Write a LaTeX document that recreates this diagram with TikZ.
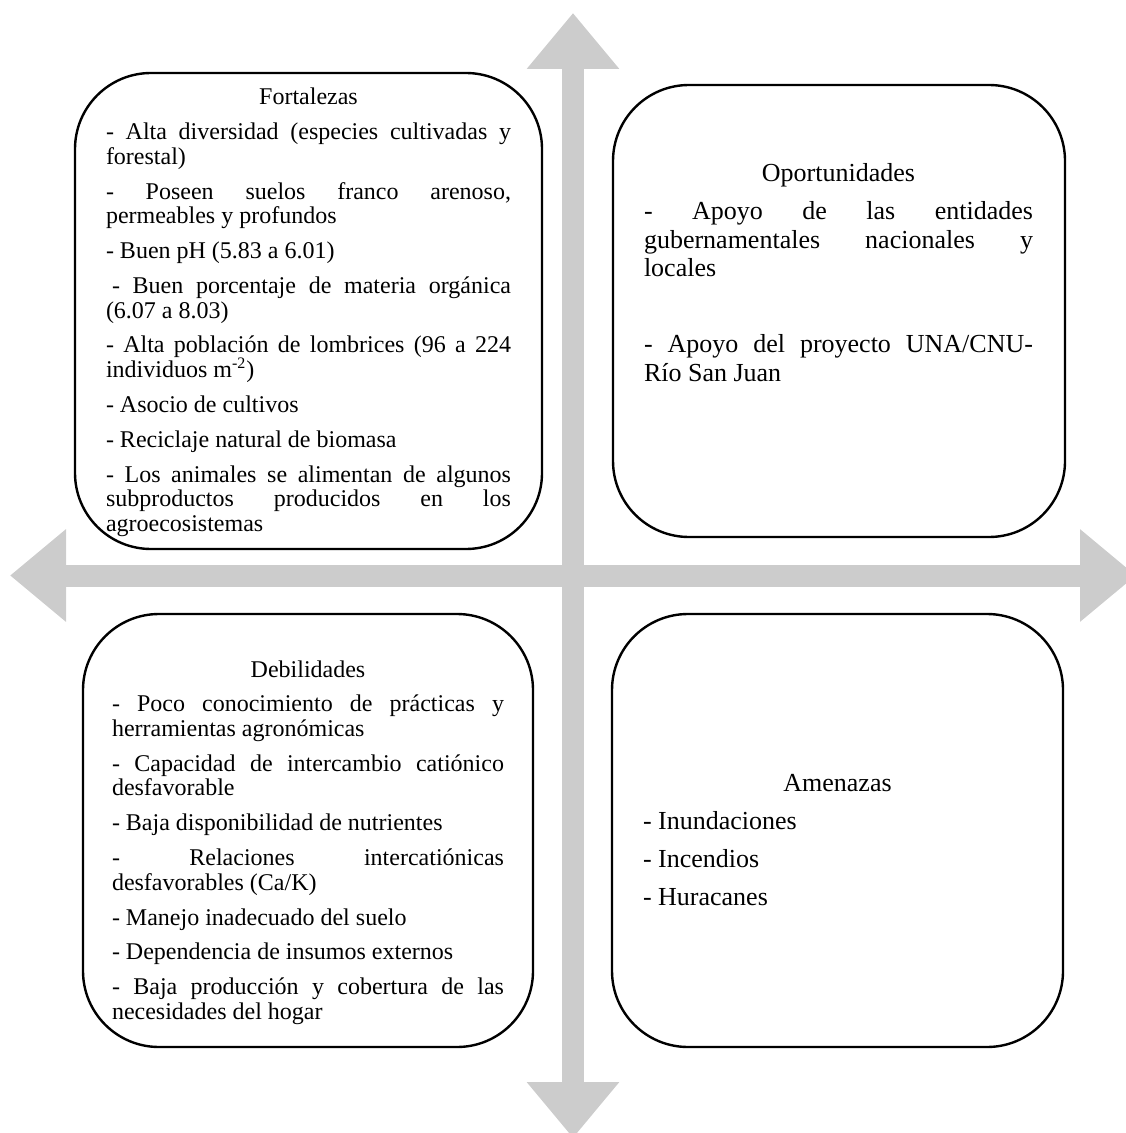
\documentclass[tikz,border=0pt]{standalone}
\usepackage{fontspec}
\setmainfont{Liberation Serif}
\usetikzlibrary{arrows.meta}
\definecolor{axisgray}{RGB}{204,204,204}

\begin{document}
\begin{tikzpicture}[x=0.5pt,y=-0.5pt,
  axis/.style={draw=axisgray,line width=11pt,>={Triangle[length=28pt,width=44.5pt]},<->},
  quad/.style n args={2}{draw,fill=white,line width=1.2pt,rounded corners=38pt,minimum width=#1,minimum height=#2,inner sep=0pt},
  body/.style n args={4}{anchor=base,inner sep=0pt,text width=#4,align=justify,
    execute at begin node={\fontsize{#1}{#2}\selectfont\setlength{\parskip}{#3}\hyphenpenalty=10000}}]
\useasboundingbox (0,0) rectangle (1125,1133);
\coordinate (n) at (573,13);
\coordinate (s) at (573,1138);
\coordinate (w) at (10,575.5);
\coordinate (e) at (1136,575.5);
\draw[axis] (s) -- (n);
\draw[axis] (w) -- (e);

\node[quad={233.5pt}{238pt}] (fort) at (308.5,311) {};
\node[quad={226pt}{226pt}] (opor) at (839,311) {};
\node[quad={225pt}{216.5pt}] (debi) at (308,830.5) {};
\node[quad={225.5pt}{216.5pt}] (amen) at (837.5,830.5) {};

\node[body={12pt}{12.25pt}{5.2pt}{202.5pt}] (fortT) at (308.5,105) {%
\makebox[\linewidth]{Fortalezas}\par
- Alta diversidad (especies cultivadas y forestal)\par
- Poseen suelos franco arenoso, permeables y profundos\par
- Buen pH (5.83 a 6.01)\par
\hspace*{3pt}- Buen porcentaje de materia orgánica (6.07 a 8.03)\par
- Alta población de lombrices (96 a 224 individuos m\textsuperscript{-2})\par
- Asocio de cultivos\par
- Reciclaje natural de biomasa\par
- Los animales se alimentan de algunos\linebreak subproductos producidos en los\linebreak agroecosistemas};

\node[body={13pt}{14.25pt}{4.75pt}{194.5pt}] (oporT) at (838.5,182) {%
\makebox[\linewidth]{Oportunidades}\par
- Apoyo de las entidades gubernamentales nacionales y\linebreak locales\par
\mbox{}\par
- Apoyo del proyecto UNA/CNU-\linebreak Río San Juan};

\node[body={12pt}{12.25pt}{5.2pt}{196pt}] (debiT) at (308,677) {%
\makebox[\linewidth]{Debilidades}\par
- Poco conocimiento de prácticas y herramientas agronómicas\par
- Capacidad de intercambio catiónico desfavorable\par
- Baja disponibilidad de nutrientes\par
- Relaciones intercatiónicas desfavorables (Ca/K)\par
- Manejo inadecuado del suelo\par
- Dependencia de insumos externos\par
- Baja producción y cobertura de las necesidades del hogar};

\node[body={13pt}{14.25pt}{4.75pt}{194.5pt}] (amenT) at (837.5,791) {%
\makebox[\linewidth]{Amenazas}\par
- Inundaciones\par
- Incendios\par
- Huracanes};
\end{tikzpicture}
\end{document}
